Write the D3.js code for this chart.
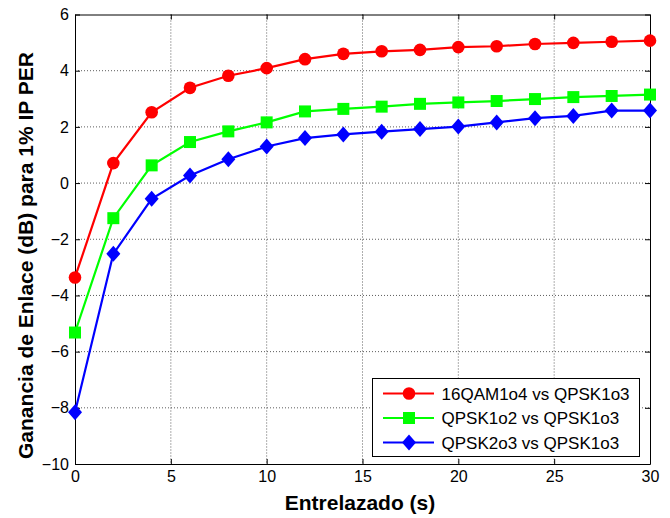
<!DOCTYPE html>
<html><head><meta charset="utf-8">
<script src="https://cdn.jsdelivr.net/npm/d3@7"></script>
<style>body{margin:0;background:#fff}svg{display:block}</style>
</head><body>
<svg id="c" width="670" height="518"></svg>
<script>
const xValues = [0,2,4,6,8,10,12,14,16,18,20,22,24,26,28,30];
const red16QAM = [-3.36,0.71,2.52,3.39,3.82,4.09,4.41,4.60,4.69,4.74,4.84,4.87,4.95,4.99,5.03,5.07];
const greenQPSK1o2 = [-5.32,-1.25,0.63,1.46,1.84,2.16,2.55,2.64,2.72,2.82,2.87,2.92,2.99,3.06,3.10,3.15];
const blueQPSK2o3 = [-8.16,-2.52,-0.56,0.27,0.85,1.30,1.60,1.73,1.83,1.92,2.01,2.16,2.31,2.39,2.58,2.58];
const seriesNames = ["16QAM1o4 vs QPSK1o3","QPSK1o2 vs QPSK1o3","QPSK2o3 vs QPSK1o3"];
const xTicks = [0,5,10,15,20,25,30];
const yTicks = [-10,-8,-6,-4,-2,0,2,4,6];
const xLabel = "Entrelazado (s)";
const yLabel = "Ganancia de Enlace (dB) para 1% IP PER";

const series = [
  {name: seriesNames[0], values: red16QAM, color: "#ff0000", marker: "circle"},
  {name: seriesNames[1], values: greenQPSK1o2, color: "#00ff00", marker: "square"},
  {name: seriesNames[2], values: blueQPSK2o3, color: "#0000ff", marker: "diamond"}
];

const svg = d3.select("#c");
const L = 75, R = 650, T = 14.5, B = 464;
const x = d3.scaleLinear().domain([0,30]).range([L,R]);
const y = d3.scaleLinear().domain([-10,6]).range([B,T]);
const font = "Arial, 'Liberation Sans', sans-serif";

// grid
const g = svg.append("g");
g.selectAll(".vg").data(xTicks.slice(1,-1)).enter().append("line")
  .attr("x1",d=>x(d)).attr("x2",d=>x(d)).attr("y1",T).attr("y2",B)
  .attr("stroke","#333").attr("stroke-width",0.8).attr("stroke-dasharray","1,2");
g.selectAll(".hg").data(yTicks.slice(1,-1)).enter().append("line")
  .attr("y1",d=>y(d)).attr("y2",d=>y(d)).attr("x1",L).attr("x2",R)
  .attr("stroke","#333").attr("stroke-width",0.8).attr("stroke-dasharray","1,2");

// axes
const xAxisB = d3.axisBottom(x).tickValues(xTicks).tickSizeInner(-5).tickSizeOuter(0).tickPadding(7);
const xAxisT = d3.axisTop(x).tickValues(xTicks).tickSizeInner(-5).tickSizeOuter(0).tickFormat("");
const yAxisL = d3.axisLeft(y).tickValues(yTicks).tickSizeInner(-5).tickSizeOuter(0).tickPadding(6);
const yAxisR = d3.axisRight(y).tickValues(yTicks).tickSizeInner(-5).tickSizeOuter(0).tickFormat("");
function styleAxis(sel){
  sel.select(".domain").attr("stroke","#000").attr("stroke-width",1);
  sel.selectAll(".tick line").attr("stroke","#000");
  sel.selectAll("text").attr("font-family",font).attr("font-size",16).attr("fill","#000");
}
svg.append("g").attr("transform",`translate(0,${B})`).call(xAxisB).call(styleAxis);
svg.append("g").attr("transform",`translate(0,${T})`).call(xAxisT).call(styleAxis);
svg.append("g").attr("transform",`translate(${L},0)`).call(yAxisL).call(styleAxis);
svg.append("g").attr("transform",`translate(${R},0)`).call(yAxisR).call(styleAxis);

// markers
const diamondPath = "M0,-8L7,0L0,8L-7,0Z";
function markerPath(m){
  if (m === "diamond") return diamondPath;
  if (m === "square") return d3.symbol().type(d3.symbolSquare).size(144)();
  return d3.symbol().type(d3.symbolCircle).size(125)();
}
const line = d3.line().x((d,i)=>x(xValues[i])).y(d=>y(d));
series.forEach(s=>{
  svg.append("path").attr("d",line(s.values)).attr("fill","none")
    .attr("stroke",s.color).attr("stroke-width",2.2);
  svg.selectAll(null).data(s.values).enter().append("path")
    .attr("d",markerPath(s.marker))
    .attr("transform",(d,i)=>`translate(${x(xValues[i])},${y(d)})`)
    .attr("fill",s.color);
});

// legend
const lg = svg.append("g");
lg.append("rect").attr("x",372.5).attr("y",378.5).attr("width",267).attr("height",78)
  .attr("fill","#fff").attr("stroke","#000").attr("stroke-width",1);
series.forEach((s,i)=>{
  const yy = 393.5 + i*24.5;
  lg.append("line").attr("x1",383).attr("x2",434).attr("y1",yy).attr("y2",yy)
    .attr("stroke",s.color).attr("stroke-width",2.2);
  lg.append("path").attr("d",markerPath(s.marker))
    .attr("transform",`translate(409,${yy})`).attr("fill",s.color);
  lg.append("text").attr("x",441.5).attr("y",yy).attr("dy","0.36em")
    .attr("font-family",font).attr("font-size",17).attr("fill","#000").text(s.name);
});

// axis labels
svg.append("text").attr("x",360).attr("y",510).attr("text-anchor","middle")
  .attr("font-family",font).attr("font-size",21).attr("font-weight","bold").text(xLabel);
svg.append("text").attr("transform",`translate(33,255.5) rotate(-90)`).attr("text-anchor","middle")
  .attr("font-family",font).attr("font-size",21).attr("font-weight","bold").text(yLabel);
</script>
</body></html>
